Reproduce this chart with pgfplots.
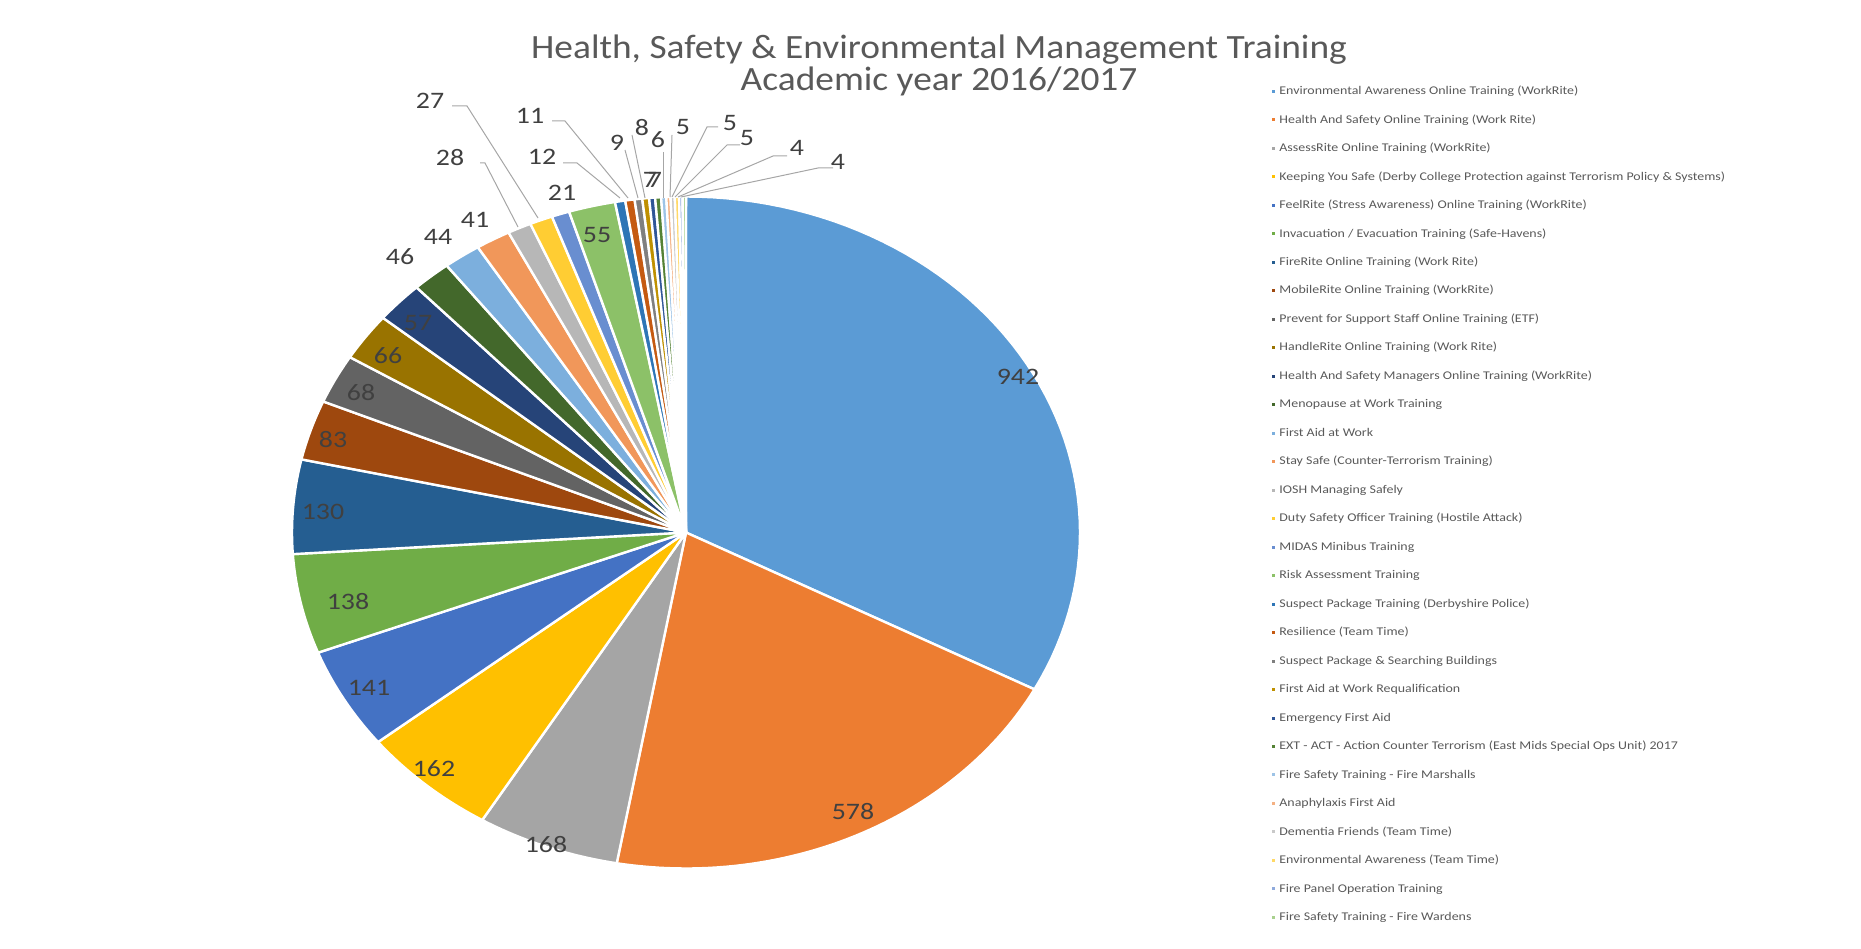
\documentclass[border=0pt]{standalone}
\usepackage{graphicx}
\usepackage{fontspec}
\setmainfont{Carlito}
\usepackage{pgfplots}
\usepackage{pgfplotstable}
\pgfplotsset{compat=1.18}

\definecolor{pc1}{HTML}{5B9BD5}\definecolor{pc2}{HTML}{ED7D31}\definecolor{pc3}{HTML}{A5A5A5}
\definecolor{pc4}{HTML}{FFC000}\definecolor{pc5}{HTML}{4472C4}\definecolor{pc6}{HTML}{70AD47}
\definecolor{pc7}{HTML}{255E91}\definecolor{pc8}{HTML}{9E480E}\definecolor{pc9}{HTML}{636363}
\definecolor{pc10}{HTML}{997300}\definecolor{pc11}{HTML}{264478}\definecolor{pc12}{HTML}{43682B}
\definecolor{pc13}{HTML}{7CAFDD}\definecolor{pc14}{HTML}{F1975A}\definecolor{pc15}{HTML}{B7B7B7}
\definecolor{pc16}{HTML}{FFCD33}\definecolor{pc17}{HTML}{698ED0}\definecolor{pc18}{HTML}{8CC168}
\definecolor{pc19}{HTML}{2E75B6}\definecolor{pc20}{HTML}{C55A11}\definecolor{pc21}{HTML}{7F7F7F}
\definecolor{pc22}{HTML}{BF9000}\definecolor{pc23}{HTML}{2F5597}\definecolor{pc24}{HTML}{548235}
\definecolor{pc25}{HTML}{9DC3E6}\definecolor{pc26}{HTML}{F4B183}\definecolor{pc27}{HTML}{C9C9C9}
\definecolor{pc28}{HTML}{FFD966}\definecolor{pc29}{HTML}{8FAADC}\definecolor{pc30}{HTML}{A9D18E}
\definecolor{lbl}{HTML}{404040}
\definecolor{ttl}{HTML}{595959}
\definecolor{lead}{HTML}{A6A6A6}

\newcommand\sx[1]{\scalebox{1.18}[1]{#1}}
\newcommand\tx[1]{\scalebox{1.1}[1]{#1}}

\pgfplotstableread[col sep=comma]{
value
942
578
168
162
141
138
130
83
68
66
57
46
44
41
28
27
21
55
12
11
9
8
7
7
6
5
5
5
4
4
}\pietable

\def\tot{0}
\pgfplotsforeachungrouped \i in {0,...,29}{%
  \pgfplotstablegetelem{\i}{value}\of\pietable
  \pgfmathsetmacro\tot{\tot+\pgfplotsretval}%
}
\def\cum{0}
\pgfplotsforeachungrouped \i in {0,...,29}{%
  \pgfplotstablegetelem{\i}{value}\of\pietable
  \pgfmathsetmacro\ta{90-(\cum/\tot)*360}%
  \pgfmathsetmacro\cum{\cum+\pgfplotsretval}%
  \pgfmathsetmacro\tb{90-(\cum/\tot)*360}%
  \pgfmathtruncatemacro\j{\i+1}%
  \expandafter\xdef\csname sa\j\endcsname{\ta}%
  \expandafter\xdef\csname sb\j\endcsname{\tb}%
}

\begin{document}
\begin{tikzpicture}
\useasboundingbox (0,0) rectangle (930.5pt,474pt);
\begin{axis}[
  at={(0,0)}, anchor=south west,
  scale only axis, width=930.5pt, height=474pt,
  xmin=0, xmax=1861, ymin=0, ymax=948,
  hide axis, clip=false,
  legend style={at={(axis cs:1272,870.8)}, anchor=north west, draw=none, fill=none,
    inner sep=0pt, outer sep=0pt, font=\fontsize{5.9}{7}\selectfont, text=ttl,
    row sep=0pt, column sep=2.2pt,
    nodes={inner sep=0pt, text height=8.7pt, text depth=5.54pt, anchor=west}},
  legend cell align=left,
  legend image code/.code={\fill[#1,draw=none] (0pt,-0.75pt) rectangle (1.5pt,0.75pt);},
]
\pgfplotsinvokeforeach{1,...,30}{
  \addplot[fill=pc#1, draw=white, line width=1.2pt, line join=round,
    domain=\csname sb#1\endcsname:\csname sa#1\endcsname, samples=60]
    ({686+394*cos(x)},{415.5+336*sin(x)}) -- (axis cs:686,415.5) -- cycle;
}
% leader lines
\addplot[forget plot, lead, line width=0.5pt] coordinates {(452,842)(467,842)(538,730)};
\addplot[forget plot, lead, line width=0.5pt] coordinates {(480,785)(485,785)(518,721)};
\addplot[forget plot, lead, line width=0.5pt] coordinates {(563,785)(577,785)(620,750)};
\addplot[forget plot, lead, line width=0.5pt] coordinates {(552,827)(565,827)(628,750)};
\addplot[forget plot, lead, line width=0.5pt] coordinates {(625,798)(638,750)};
\addplot[forget plot, lead, line width=0.5pt] coordinates {(632,813)(645,750)};
\addplot[forget plot, lead, line width=0.5pt] coordinates {(663,796)(663,750)};
\addplot[forget plot, lead, line width=0.5pt] coordinates {(672,813)(670,751)};
\addplot[forget plot, lead, line width=0.5pt] coordinates {(718,821)(707,821)(672,751)};
\addplot[forget plot, lead, line width=0.5pt] coordinates {(740,803)(727,803)(675,751)};
\addplot[forget plot, lead, line width=0.5pt] coordinates {(787,792)(773,792)(678,751)};
\addplot[forget plot, lead, line width=0.5pt] coordinates {(833,780)(818,780)(681,751)};

\legend{
\sx{Environmental Awareness Online Training (WorkRite)},
\sx{Health And Safety Online Training (Work Rite)},
\sx{AssessRite Online Training (WorkRite)},
\sx{Keeping You Safe (Derby College Protection against Terrorism Policy \& Systems)},
\sx{FeelRite (Stress Awareness) Online Training (WorkRite)},
\sx{Invacuation / Evacuation Training (Safe-Havens)},
\sx{FireRite Online Training (Work Rite)},
\sx{MobileRite Online Training (WorkRite)},
\sx{Prevent for Support Staff Online Training (ETF)},
\sx{HandleRite Online Training (Work Rite)},
\sx{Health And Safety Managers Online Training (WorkRite)},
\sx{Menopause at Work Training},
\sx{First Aid at Work},
\sx{Stay Safe (Counter-Terrorism Training)},
\sx{IOSH Managing Safely},
\sx{Duty Safety Officer Training (Hostile Attack)},
\sx{MIDAS Minibus Training},
\sx{Risk Assessment Training},
\sx{Suspect Package Training (Derbyshire Police)},
\sx{Resilience (Team Time)},
\sx{Suspect Package \& Searching Buildings},
\sx{First Aid at Work Requalification},
\sx{Emergency First Aid},
\sx{EXT - ACT - Action Counter Terrorism (East Mids Special Ops Unit) 2017},
\sx{Fire Safety Training - Fire Marshalls},
\sx{Anaphylaxis First Aid},
\sx{Dementia Friends (Team Time)},
\sx{Environmental Awareness (Team Time)},
\sx{Fire Panel Operation Training},
\sx{Fire Safety Training - Fire Wardens}}

% title
\node[font=\fontsize{17}{16}\selectfont, text=ttl, align=center, inner sep=0pt] at (axis cs:939,883)
  {\tx{Health, Safety \& Environmental Management Training}\\\tx{Academic year 2016/2017}};

% data labels
\begin{scope}[every node/.style={font=\fontsize{11.8}{14}\selectfont, text=lbl, inner sep=0pt}]
\node at (axis cs:1018,571) {\sx{942}};
\node at (axis cs:853,136) {\sx{578}};
\node at (axis cs:546,103) {\sx{168}};
\node at (axis cs:434,179) {\sx{162}};
\node at (axis cs:369,260) {\sx{141}};
\node at (axis cs:348,346) {\sx{138}};
\node at (axis cs:323,436) {\sx{130}};
\node at (axis cs:333,508) {\sx{83}};
\node at (axis cs:361,555) {\sx{68}};
\node at (axis cs:388,592) {\sx{66}};
\node at (axis cs:418,625) {\sx{57}};
\node at (axis cs:400,691) {\sx{46}};
\node at (axis cs:438,711) {\sx{44}};
\node at (axis cs:475,728) {\sx{41}};
\node at (axis cs:450,790) {\sx{28}};
\node at (axis cs:430,847) {\sx{27}};
\node at (axis cs:562,755) {\sx{21}};
\node at (axis cs:597,713) {\sx{55}};
\node at (axis cs:542,791) {\sx{12}};
\node at (axis cs:530,832) {\sx{11}};
\node at (axis cs:617,805) {\sx{9}};
\node at (axis cs:642,820) {\sx{8}};
\node at (axis cs:650,768) {\sx{7}};
\node at (axis cs:655,768) {\sx{7}};
\node at (axis cs:658,808) {\sx{6}};
\node at (axis cs:683,821) {\sx{5}};
\node at (axis cs:730,825) {\sx{5}};
\node at (axis cs:747,810) {\sx{5}};
\node at (axis cs:797,800) {\sx{4}};
\node at (axis cs:838,786) {\sx{4}};
\end{scope}
\end{axis}
\end{tikzpicture}
\end{document}
